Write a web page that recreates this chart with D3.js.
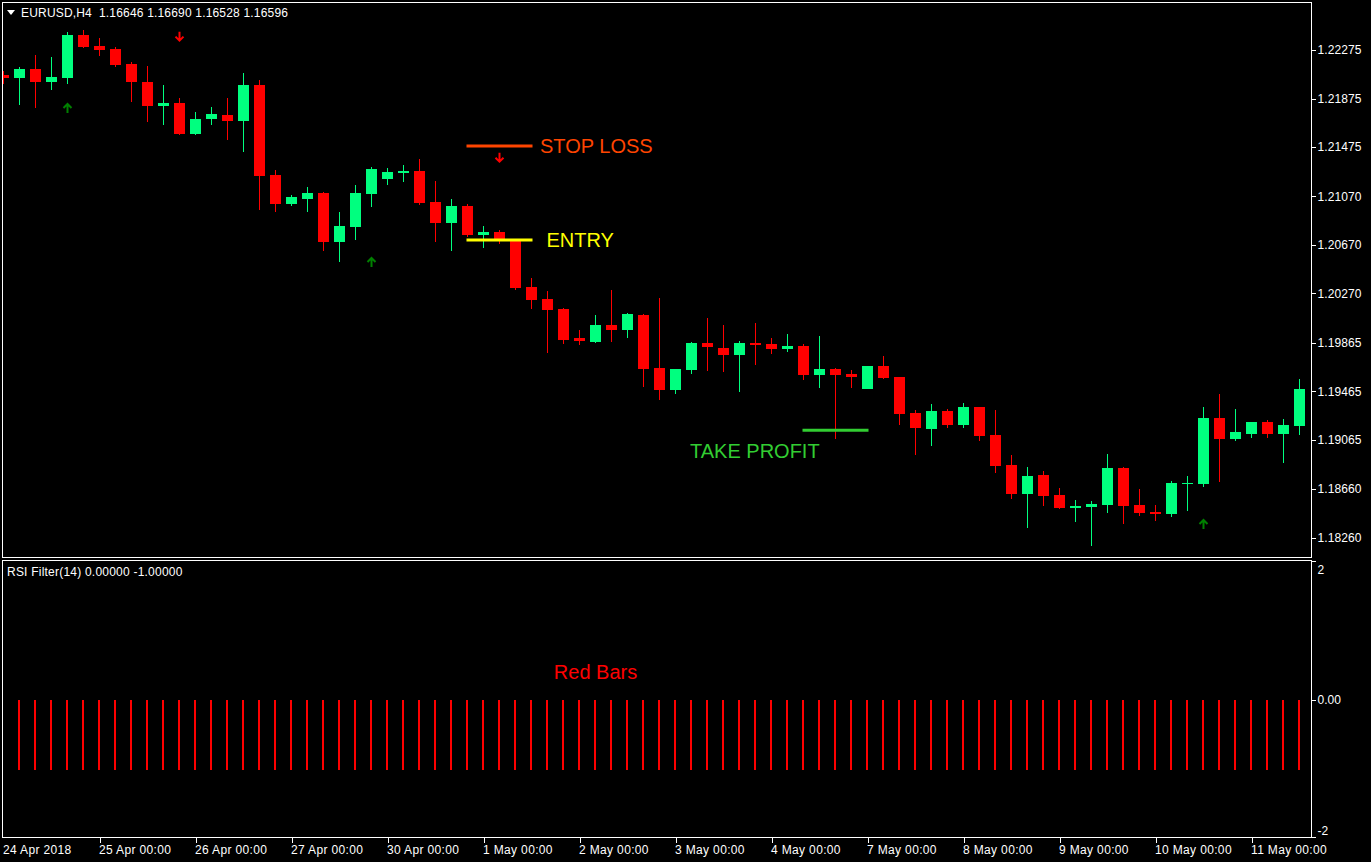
<!DOCTYPE html>
<html>
<head>
<meta charset="utf-8">
<script src="https://cdn.jsdelivr.net/npm/d3@7"></script>
<style>
  html, body { margin: 0; padding: 0; background: #000; }
  svg { display: block; }
  text { font-family: "Liberation Sans", Arial, sans-serif; }
</style>
</head>
<body>
<div id="chart"></div>
<script>
// EURUSD H4 – Candles + RSI Filter Panel (MT4-Look)

// ---- Daten ----
const opens = [
  1.22069, 1.22047, 1.22119, 1.22014, 1.22047, 1.22399, 1.22308, 1.22283, 1.22160, 1.22011,
  1.21816, 1.21839, 1.21586, 1.21709, 1.21740, 1.21693, 1.21987, 1.21246, 1.21009, 1.21050,
  1.21097, 1.20696, 1.20820, 1.21092, 1.21215, 1.21264, 1.21278, 1.21023, 1.20853, 1.20990,
  1.20754, 1.20776, 1.20710, 1.20323, 1.20224, 1.20142, 1.19903, 1.19873, 1.20010, 1.19971,
  1.20092, 1.19656, 1.19477, 1.19642, 1.19862, 1.19821, 1.19765, 1.19862, 1.19854, 1.19812,
  1.19837, 1.19601, 1.19648, 1.19607, 1.19485, 1.19672, 1.19582, 1.19285, 1.19156, 1.19302,
  1.19189, 1.19335, 1.19104, 1.18857, 1.18621, 1.18775, 1.18610, 1.18505, 1.18514, 1.18530,
  1.18832, 1.18528, 1.18470, 1.18456, 1.18703, 1.18703, 1.19244, 1.19074, 1.19115, 1.19211,
  1.19115, 1.19181
];
const highs = [
  1.22102, 1.22135, 1.22234, 1.22217, 1.22423, 1.22440, 1.22374, 1.22300, 1.22176, 1.22143,
  1.21987, 1.21880, 1.21764, 1.21806, 1.21880, 1.22086, 1.22028, 1.21287, 1.21081, 1.21147,
  1.21105, 1.20941, 1.21163, 1.21311, 1.21303, 1.21328, 1.21377, 1.21196, 1.21048, 1.21007,
  1.20828, 1.20793, 1.20716, 1.20397, 1.20290, 1.20153, 1.19969, 1.20092, 1.20298, 1.20111,
  1.20101, 1.20235, 1.19648, 1.19873, 1.20068, 1.20010, 1.19878, 1.20029, 1.19903, 1.19936,
  1.19854, 1.19920, 1.19658, 1.19639, 1.19672, 1.19755, 1.19582, 1.19313, 1.19359, 1.19321,
  1.19368, 1.19335, 1.19310, 1.18939, 1.18841, 1.18808, 1.18668, 1.18569, 1.18561, 1.18948,
  1.18841, 1.18659, 1.18528, 1.18725, 1.18766, 1.19335, 1.19442, 1.19318, 1.19211, 1.19228,
  1.19236, 1.19565
];
const lows = [
  1.21997, 1.21822, 1.21800, 1.21948, 1.21997, 1.22294, 1.22228, 1.22137, 1.21849, 1.21685,
  1.21660, 1.21577, 1.21577, 1.21660, 1.21536, 1.21437, 1.20957, 1.20943, 1.20993, 1.20943,
  1.20622, 1.20531, 1.20713, 1.20984, 1.21166, 1.21190, 1.21001, 1.20696, 1.20622, 1.20737,
  1.20647, 1.20677, 1.20301, 1.20144, 1.19782, 1.19856, 1.19848, 1.19864, 1.19873, 1.19906,
  1.19502, 1.19395, 1.19444, 1.19609, 1.19634, 1.19625, 1.19461, 1.19683, 1.19774, 1.19790,
  1.19560, 1.19494, 1.19074, 1.19494, 1.19485, 1.19568, 1.19189, 1.18942, 1.19016, 1.19164,
  1.19164, 1.19057, 1.18794, 1.18580, 1.18341, 1.18522, 1.18497, 1.18390, 1.18192, 1.18464,
  1.18374, 1.18439, 1.18398, 1.18431, 1.18481, 1.18678, 1.18720, 1.19057, 1.19082, 1.19082,
  1.18876, 1.19107
];
const closes = [
  1.22047, 1.22119, 1.22014, 1.22053, 1.22399, 1.22302, 1.22277, 1.22154, 1.22014, 1.21816,
  1.21839, 1.21586, 1.21707, 1.21748, 1.21693, 1.21987, 1.21240, 1.21009, 1.21064, 1.21097,
  1.20696, 1.20825, 1.21097, 1.21295, 1.21270, 1.21278, 1.21017, 1.20853, 1.20990, 1.20754,
  1.20776, 1.20716, 1.20317, 1.20218, 1.20136, 1.19889, 1.19881, 1.20010, 1.19971, 1.20101,
  1.19650, 1.19477, 1.19648, 1.19862, 1.19831, 1.19765, 1.19862, 1.19848, 1.19815, 1.19837,
  1.19601, 1.19648, 1.19601, 1.19584, 1.19672, 1.19576, 1.19280, 1.19164, 1.19302, 1.19189,
  1.19335, 1.19098, 1.18851, 1.18621, 1.18766, 1.18604, 1.18505, 1.18522, 1.18536, 1.18832,
  1.18522, 1.18464, 1.18456, 1.18709, 1.18709, 1.19244, 1.19074, 1.19129, 1.19211, 1.19115,
  1.19187, 1.19483
];

// RSI Filter: -1 = Short (rote Balken), erster Balken liegt unter dem Rahmen
const rsiFilter = [
  null, -1, -1, -1, -1, -1, -1, -1, -1, -1, -1, -1, -1, -1, -1, -1, -1, -1, -1, -1,
  -1, -1, -1, -1, -1, -1, -1, -1, -1, -1, -1, -1, -1, -1, -1, -1, -1, -1, -1, -1,
  -1, -1, -1, -1, -1, -1, -1, -1, -1, -1, -1, -1, -1, -1, -1, -1, -1, -1, -1, -1,
  -1, -1, -1, -1, -1, -1, -1, -1, -1, -1, -1, -1, -1, -1, -1, -1, -1, -1, -1, -1,
  -1, -1
];

const priceTicks = [1.22275, 1.21875, 1.21475, 1.21070, 1.20670, 1.20270, 1.19865, 1.19465, 1.19065, 1.18660, 1.18260];
const rsiTicks = [2, 0, -2];
const rsiTickLabels = ["2", "0.00", "-2"];

const timeTickBars = [0, 6, 12, 18, 24, 30, 36, 42, 48, 54, 60, 66, 72, 78];
const timeTickLabels = [
  "24 Apr 2018", "25 Apr 00:00", "26 Apr 00:00", "27 Apr 00:00", "30 Apr 00:00", "1 May 00:00",
  "2 May 00:00", "3 May 00:00", "4 May 00:00", "7 May 00:00", "8 May 00:00", "9 May 00:00",
  "10 May 00:00", "11 May 00:00"
];

// Signalpfeile
const arrowBars = [4, 11, 23, 31, 75];
const arrowPrices = [1.21797, 1.22385, 1.20529, 1.21388, 1.18371];
const arrowDirs = ["up", "down", "up", "down", "up"];

// Handelslevel
const levelNames = ["STOP LOSS", "ENTRY", "TAKE PROFIT"];
const levelPrices = [1.21484, 1.20710, 1.19143];
const levelFrom = [29, 29, 50];
const levelTo = [33, 33, 54];

// ---- Stil ----
const BULL = "#00ff7f", BEAR = "#ff0000", FG = "#ffffff";
const levelStyle = {
  "STOP LOSS":   { color: "#ff4500", dx: 8.5,    dy: 0,  side: "to" },
  "ENTRY":       { color: "#ffff00", dx: 15,     dy: 0,  side: "to" },
  "TAKE PROFIT": { color: "#32cd32", dx: -113.5, dy: 21, side: "from" }
};

const W = 1371, H = 862;
const F = { left: 2.5, right: 1311.5, top: 2.5, mainBottom: 557.5, subTop: 560.5, axis: 837.5 };

const svg = d3.select("#chart").append("svg")
  .attr("width", W).attr("height", H)
  .style("background", "#000");

// Skalen
const x = d3.scaleLinear().domain([0, 81]).range([3.5, 1299.5]);
const y = d3.scaleLinear().domain([1.18260, 1.22275]).range([537.5, 50]);
const yRsi = d3.scaleLinear().domain([-2, 2]).range([840, 560]);

// Clip für Hauptfenster und Unterfenster
const defs = svg.append("defs");
defs.append("clipPath").attr("id", "clipMain").append("rect")
  .attr("x", F.left + 0.5).attr("y", F.top + 0.5)
  .attr("width", F.right - F.left - 1).attr("height", F.mainBottom - F.top - 1);
defs.append("clipPath").attr("id", "clipSub").append("rect")
  .attr("x", F.left + 0.5).attr("y", F.subTop + 0.5)
  .attr("width", F.right - F.left - 1).attr("height", F.axis - F.subTop - 1);

// ---- Kerzen ----
const bars = opens.map((o, i) => ({ i, o, h: highs[i], l: lows[i], c: closes[i] }));
const gMain = svg.append("g").attr("clip-path", "url(#clipMain)");
const gCandles = gMain.append("g").attr("shape-rendering", "crispEdges");

gCandles.selectAll("line.wick").data(bars).join("line")
  .attr("class", "wick")
  .attr("x1", d => x(d.i)).attr("x2", d => x(d.i))
  .attr("y1", d => y(d.h)).attr("y2", d => y(d.l))
  .attr("stroke", d => (d.c >= d.o ? BULL : BEAR))
  .attr("stroke-width", 1);

gCandles.selectAll("rect.body").data(bars).join("rect")
  .attr("class", "body")
  .attr("x", d => x(d.i) - 5.5)
  .attr("width", 11)
  .attr("y", d => y(Math.max(d.o, d.c)))
  .attr("height", d => Math.max(1, Math.abs(y(d.o) - y(d.c))))
  .attr("fill", d => (d.c >= d.o ? BULL : BEAR));

// ---- Pfeile ----
const arrows = arrowBars.map((b, k) => ({ b, p: arrowPrices[k], dir: arrowDirs[k] }));
gMain.selectAll("path.arrow").data(arrows).join("path")
  .attr("class", "arrow")
  .attr("d", d => {
    const cx = x(d.b), cy = y(d.p);
    return d.dir === "down"
      ? `M${cx},${cy - 5}V${cy + 4}M${cx - 4},${cy}L${cx},${cy + 4}L${cx + 4},${cy}`
      : `M${cx},${cy + 5}V${cy - 4}M${cx - 4},${cy}L${cx},${cy - 4}L${cx + 4},${cy}`;
  })
  .attr("fill", "none")
  .attr("stroke", d => (d.dir === "down" ? "#ff0000" : "#008000"))
  .attr("stroke-width", 2);

// ---- Level-Linien + Beschriftung ----
const levels = levelNames.map((n, k) => ({ n, p: levelPrices[k], a: levelFrom[k], b: levelTo[k] }));
gMain.selectAll("line.level").data(levels).join("line")
  .attr("class", "level")
  .attr("x1", d => x(d.a) - 1).attr("x2", d => x(d.b) + 1)
  .attr("y1", d => y(d.p)).attr("y2", d => y(d.p))
  .attr("stroke", d => levelStyle[d.n].color)
  .attr("stroke-width", 3);

gMain.selectAll("text.level").data(levels).join("text")
  .attr("class", "level")
  .attr("x", d => x(levelStyle[d.n].side === "to" ? d.b : d.a) + levelStyle[d.n].dx)
  .attr("y", d => y(d.p) + levelStyle[d.n].dy)
  .attr("dy", "0.36em")
  .style("font-size", "20px")
  .style("fill", d => levelStyle[d.n].color)
  .text(d => d.n);

// ---- RSI Filter Unterfenster ----
const gSub = svg.append("g").attr("clip-path", "url(#clipSub)").attr("shape-rendering", "crispEdges");
gSub.selectAll("rect.rsi").data(rsiFilter.map((v, i) => ({ v, i })).filter(d => d.v != null)).join("rect")
  .attr("class", "rsi")
  .attr("x", d => x(d.i) - 1.5)
  .attr("width", 2)
  .attr("y", d => yRsi(Math.max(0, d.v)))
  .attr("height", d => Math.abs(yRsi(d.v) - yRsi(0)))
  .attr("fill", "#ff0000");

gSub.append("text")
  .attr("x", x(37)).attr("y", yRsi(0) - 28).attr("dy", "0.36em")
  .attr("text-anchor", "middle")
  .style("font-size", "20px").style("fill", "#ff0000")
  .text("Red Bars");

// ---- Rahmen ----
const gFrame = svg.append("g").attr("fill", "none").attr("stroke", FG).attr("stroke-width", 1)
  .attr("shape-rendering", "crispEdges");
gFrame.append("rect").attr("x", F.left).attr("y", F.top)
  .attr("width", F.right - F.left).attr("height", F.mainBottom - F.top);
gFrame.append("rect").attr("x", F.left).attr("y", F.subTop)
  .attr("width", F.right - F.left).attr("height", F.axis - F.subTop);

// ---- Preisachse rechts ----
const yAxis = svg.append("g")
  .attr("transform", `translate(${F.right},0)`)
  .call(d3.axisRight(y).tickValues(priceTicks).tickSize(4).tickPadding(2).tickFormat(d3.format(".5f")));
yAxis.select(".domain").remove();
yAxis.selectAll("line").attr("stroke", FG).attr("shape-rendering", "crispEdges");
yAxis.selectAll("text").attr("fill", FG)
  .style("font-size", "12px").style("letter-spacing", "0.1px")
  .style("font-family", '"Liberation Sans", Arial, sans-serif');

// RSI-Achse (Min/Max-Label nach innen versetzt wie MT4)
const gRsiAxis = svg.append("g").attr("transform", `translate(${F.right},0)`);
gRsiAxis.selectAll("line").data(rsiTicks).join("line")
  .attr("x1", 0).attr("x2", 4)
  .attr("y1", d => Math.min(F.axis, Math.max(F.subTop + 1, yRsi(d))))
  .attr("y2", d => Math.min(F.axis, Math.max(F.subTop + 1, yRsi(d))))
  .attr("stroke", FG).attr("shape-rendering", "crispEdges");
gRsiAxis.selectAll("text").data(rsiTicks).join("text")
  .attr("x", 6)
  .attr("y", d => yRsi(d) + (d === 2 ? 10 : d === -2 ? -9 : 0))
  .attr("dy", "0.32em")
  .style("font-size", "12px").style("fill", FG)
  .text((d, k) => rsiTickLabels[k]);

// ---- Zeitachse ----
const xAxis = svg.append("g")
  .attr("transform", `translate(0,${F.axis})`)
  .call(d3.axisBottom(x).tickValues(timeTickBars).tickSize(5).tickPadding(3).tickFormat((d, k) => timeTickLabels[k]));
xAxis.select(".domain").remove();
xAxis.append("line").attr("x1", F.left).attr("x2", F.right).attr("stroke", FG).attr("shape-rendering", "crispEdges");
xAxis.selectAll(".tick line").attr("stroke", FG).attr("shape-rendering", "crispEdges")
  .attr("opacity", d => (d === 0 ? 0 : 1));
xAxis.selectAll(".tick text")
  .attr("fill", FG).attr("text-anchor", "start").attr("x", -1)
  .style("font-size", "12px").style("letter-spacing", "0.35px")
  .style("font-family", '"Liberation Sans", Arial, sans-serif');

// ---- Kopfzeilen ----
svg.append("path").attr("d", "M7,10H15L11,15Z").attr("fill", FG);
svg.append("text").attr("x", 21).attr("y", 17)
  .style("font-size", "12px").style("letter-spacing", "0.18px").style("fill", FG)
  .attr("xml:space", "preserve")
  .text("EURUSD,H4  1.16646 1.16690 1.16528 1.16596");
svg.append("text").attr("x", 7).attr("y", 576)
  .style("font-size", "12px").style("letter-spacing", "0.22px").style("fill", FG)
  .text("RSI Filter(14) 0.00000 -1.00000");
</script>
</body>
</html>
